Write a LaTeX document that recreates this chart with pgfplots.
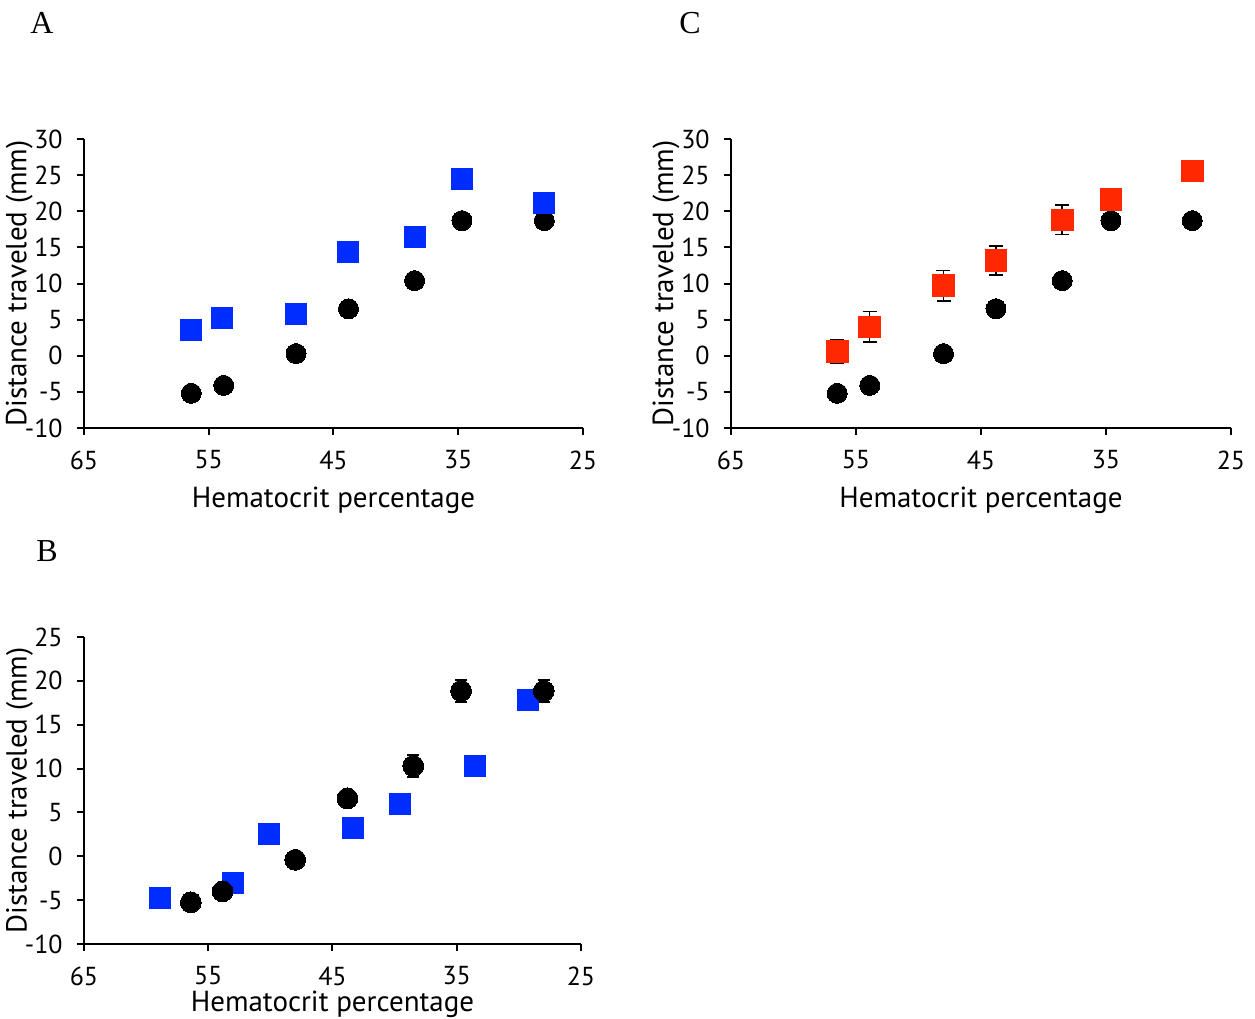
\documentclass[border=0pt]{standalone}
\usepackage{pgfplots}
\pgfplotsset{compat=1.18}
\usepackage{fontspec}
\setmainfont{PT Sans}
\newfontfamily\lettfont{Liberation Serif}
\definecolor{blueM}{RGB}{0,45,255}
\definecolor{redM}{RGB}{255,40,0}
\begin{document}
\begin{tikzpicture}
\useasboundingbox (0,0) rectangle (627.5pt,509.5pt);
\pgfplotsset{
  myaxis/.style={
    scale only axis,
    axis lines*=left,
    x dir=reverse,
    xmin=25, xmax=65,
    xtick={25,35,45,55,65},
    tick align=outside,
    major tick length=3.5pt,
    axis line style={line width=1pt},
    tick style={line width=1pt, black},
    font=\fontsize{13}{15}\selectfont,
    /pgf/number format/assume math mode=true,
    clip=false,
    xlabel={Hematocrit percentage},
    ylabel={Distance traveled (mm)},
    every axis y label/.style={at={(axis description cs:-0.13,0.5)}, rotate=90, anchor=center, font=\fontsize{14.5}{16}\selectfont},
    every axis x label/.style={at={(axis description cs:0.5,0)}, anchor=center, yshift=-36pt, font=\fontsize{14.5}{16}\selectfont},
    x tick label style={anchor=center, yshift=-12.5pt},
    y tick label style={anchor=east, inner sep=0pt, xshift=-7pt},
  },
  circ/.style={only marks, mark=*, mark size=5pt, mark options={fill=black, draw=black, line width=0pt}},
  sq/.style={only marks, mark=square*, mark size=5.25pt, mark options={fill=#1, draw=#1, line width=0pt}},
}
% Panel A
\begin{axis}[myaxis, at={(42pt,295.5pt)}, width=249.5pt, height=144.5pt,
  ymin=-10, ymax=30, ytick={-10,-5,0,5,10,15,20,25,30}]
\addplot[circ] coordinates {(56.4,-5.2) (53.8,-4.1) (48.0,0.3) (43.8,6.5) (38.5,10.4) (34.7,18.7) (28.1,18.7)};
\addplot[sq=blueM] coordinates {(56.4,3.5) (53.9,5.2) (48.0,5.8) (43.8,14.4) (38.5,16.4) (34.7,24.5) (28.1,21.1)};
\end{axis}
% Panel C
\begin{axis}[myaxis, at={(365.5pt,295.5pt)}, width=250pt, height=144.5pt,
  ymin=-10, ymax=30, ytick={-10,-5,0,5,10,15,20,25,30}]
\addplot[circ] coordinates {(56.5,-5.2) (53.9,-4.1) (48.0,0.3) (43.8,6.5) (38.5,10.4) (34.6,18.7) (28.1,18.7)};
\addplot[only marks, mark=none, error bars/.cd, y dir=both, y explicit, error mark options={rotate=90, mark size=3.5pt, line width=0.75pt, black}, error bar style={line width=0.75pt, black}]
  coordinates {(56.5,0.6) +- (0,1.6) (53.9,4.0) +- (0,2.1) (48.0,9.7) +- (0,2.1) (43.8,13.2) +- (0,2.0) (38.5,18.8) +- (0,2.05) (34.6,21.65) +- (0,1.2) (28.1,25.55) +- (0,1.2)};
\addplot[sq=redM, mark size=5.4pt] coordinates {(56.5,0.6) (53.9,4.0) (48.0,9.7) (43.8,13.2) (38.5,18.8) (34.6,21.65) (28.1,25.55)};
\end{axis}
% Panel B
\begin{axis}[myaxis, at={(42pt,37.5pt)}, width=248.5pt, height=153.5pt,
  ymin=-10, ymax=25, ytick={-10,-5,0,5,10,15,20,25},
  every axis x label/.style={at={(axis description cs:0.5,0)}, anchor=center, yshift=-30pt, font=\fontsize{14.5}{16}\selectfont}]
\addplot[sq=blueM] coordinates {(58.85,-4.7) (53.0,-3.0) (50.1,2.5) (43.35,3.2) (39.55,6.0) (33.5,10.3) (29.3,17.8)};
\addplot[only marks, mark=none, error bars/.cd, y dir=both, y explicit, error mark options={rotate=90, mark size=3pt, line width=0.75pt, black}, error bar style={line width=0.75pt, black}]
  coordinates {(56.4,-5.25) +- (0,0.8) (53.85,-4.0) +- (0,0.8) (48.0,-0.4) +- (0,0.8) (43.8,6.6) +- (0,0.8) (38.5,10.3) +- (0,1.25) (34.65,18.85) +- (0,1.25) (28.0,18.85) +- (0,1.25)};
\addplot[circ, mark size=5.2pt] coordinates {(56.4,-5.25) (53.85,-4.0) (48.0,-0.4) (43.8,6.6) (38.5,10.3) (34.65,18.85) (28.0,18.85)};
\end{axis}
\node[font=\lettfont\fontsize{16}{18}\selectfont] at (21pt,498pt) {A};
\node[font=\lettfont\fontsize{16}{18}\selectfont] at (345pt,498pt) {C};
\node[font=\lettfont\fontsize{16}{18}\selectfont] at (23.5pt,234pt) {B};
\end{tikzpicture}
\end{document}
